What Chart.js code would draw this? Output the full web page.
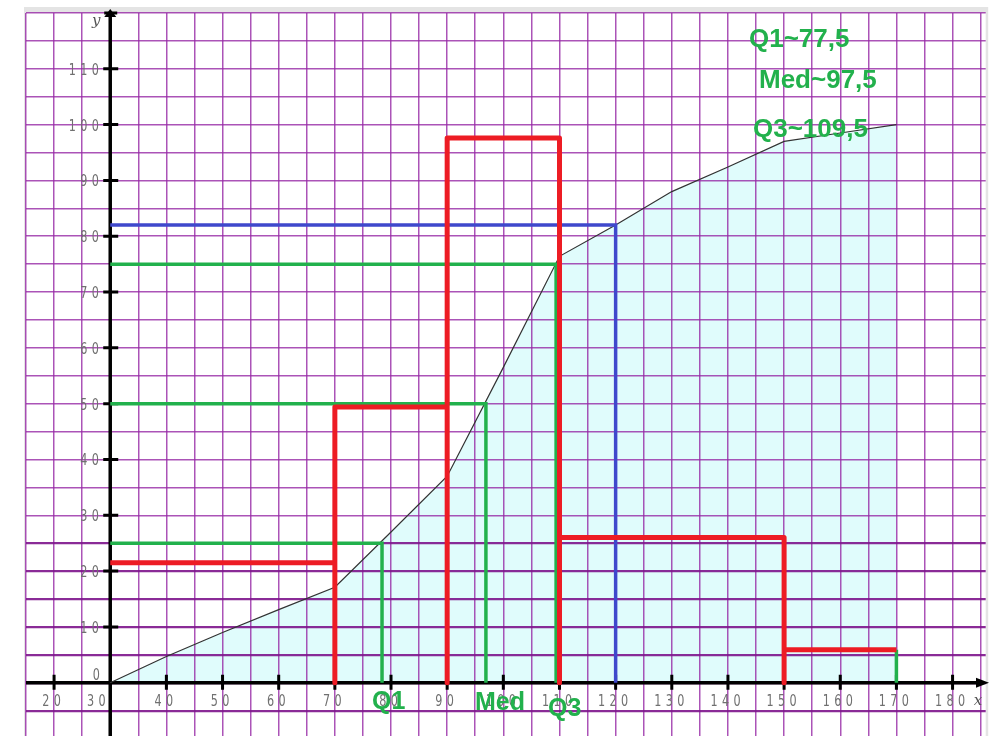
<!DOCTYPE html>
<html>
<head>
<meta charset="utf-8">
<script src="https://cdn.jsdelivr.net/npm/chart.js@4.4.1/dist/chart.umd.min.js"></script>
<style>
  html, body { margin: 0; padding: 0; background: #fff; }
  #wrap { position: relative; width: 1000px; height: 736px; }
</style>
</head>
<body>
<div id="wrap"><canvas id="chart"></canvas></div>
<script>
// cumulative frequency polygon
var cumX = [30, 40, 50, 60, 70, 80, 90, 100, 110, 120, 130, 140, 150, 160, 170];
var cumY = [0, 4.7, 9, 13.1, 17.1, 27, 37, 56.5, 76.4, 82, 88, 92.4, 97, 98.5, 100];

// histogram: class edges and bar heights
var classEdges = [30, 70, 90, 110, 150, 170];
var classHeights = [21.5, 49.4, 97.6, 26, 5.9];

// quartile readings
var quartLevels = [25, 50, 75];
var quartX = [78.4, 96.9, 109.4];
var quartNames = ["Q1", "Med", "Q3"];
var quartTexts = ["Q1~77,5", "Med~97,5", "Q3~109,5"];

// blue reading
var blueLevel = 82;
var blueX = 120;

// axis ticks
var xTicks = [20, 30, 40, 50, 60, 70, 80, 90, 100, 110, 120, 130, 140, 150, 160, 170, 180];
var xTickLabels = ["2 0", "3 0", "4 0", "5 0", "6 0", "7 0", "8 0", "9 0", "1 0 0", "1 1 0", "1 2 0", "1 3 0", "1 4 0", "1 5 0", "1 6 0", "1 7 0", "1 8 0"];
var yTicks = [10, 20, 30, 40, 50, 60, 70, 80, 90, 100, 110];
var yTickLabels = ["1 0", "2 0", "3 0", "4 0", "5 0", "6 0", "7 0", "8 0", "9 0", "1 0 0", "1 1 0"];

var RED = '#ed1c24', GREEN = '#22b14c', BLUE = '#3f48cc';
var AXIS_X = 30, AXIS_Y = 0;

// red step outline of the histogram
var redPts = [];
for (var i = 0; i < classHeights.length; i++) {
    if (i > 0) redPts.push({x: classEdges[i], y: 0});
    redPts.push({x: classEdges[i], y: classHeights[i]});
    redPts.push({x: classEdges[i + 1], y: classHeights[i]});
}

var datasets = [{
    data: redPts, borderColor: RED, borderWidth: 5, borderJoinStyle: 'round'
}];

for (var q = 0; q < quartX.length; q++) {
    datasets.push({
        data: [{x: AXIS_X, y: quartLevels[q]}, {x: quartX[q], y: quartLevels[q]}, {x: quartX[q], y: 0}],
        borderColor: GREEN, borderWidth: 3.5
    });
}
var last = classEdges.length - 1;
datasets.push({
    data: [{x: classEdges[last], y: 0}, {x: classEdges[last], y: classHeights[last - 1]}],
    borderColor: GREEN, borderWidth: 3.5
});
datasets.push({
    data: [{x: AXIS_X, y: blueLevel}, {x: blueX, y: blueLevel}, {x: blueX, y: 0}],
    borderColor: BLUE, borderWidth: 3.5
});
datasets.push({
    data: cumX.map(function (x, k) { return {x: x, y: cumY[k]}; }),
    borderColor: '#333', borderWidth: 1.2,
    fill: 'origin', backgroundColor: 'rgb(224,252,252)'
});

function gridStyle(ctx) {
    var v = ctx.tick ? ctx.tick.value : 0;
    return v;
}

function spaced(ctx, str, cx, cy, rightAlign) {
    var d = str.split(' ');
    var pitch = 11.5;
    var n = d.length;
    if (rightAlign) cx = cx - (n - 1) / 2 * pitch;
    ctx.save();
    ctx.font = '16px "DejaVu Sans"';
    ctx.fillStyle = '#707070';
    ctx.textAlign = 'center';
    ctx.textBaseline = 'alphabetic';
    for (var k = 0; k < n; k++) {
        ctx.save();
        ctx.translate(cx + (k - (n - 1) / 2) * pitch, cy + 6);
        ctx.scale(0.7, 1);
        ctx.fillText(d[k], 0, 0);
        ctx.restore();
    }
    ctx.restore();
}

var drawing = {
    id: 'drawing',
    beforeDraw: function (chart) {
        var ctx = chart.ctx;
        ctx.save();
        ctx.fillStyle = '#e4e4e4';
        ctx.fillRect(24, 7, 964, 6);
        ctx.fillRect(24, 7, 2, 729);
        ctx.fillRect(985.7, 7, 2.5, 729);
        ctx.restore();
    },
    beforeDatasetsDraw: function (chart) {
        var ctx = chart.ctx, xs = chart.scales.x, ys = chart.scales.y, a = chart.chartArea;
        var x0 = xs.getPixelForValue(AXIS_X), y0 = ys.getPixelForValue(AXIS_Y);
        ctx.save();
        ctx.strokeStyle = '#000';
        ctx.fillStyle = '#000';
        ctx.lineWidth = 3.5;
        ctx.beginPath();
        ctx.moveTo(x0, a.top);
        ctx.lineTo(x0, a.bottom);
        ctx.moveTo(a.left, y0);
        ctx.lineTo(979, y0);
        ctx.stroke();
        // arrows
        ctx.beginPath();
        ctx.moveTo(976, y0 - 5); ctx.lineTo(989, y0); ctx.lineTo(976, y0 + 5); ctx.closePath();
        ctx.fill();
        ctx.beginPath();
        ctx.moveTo(x0 - 6, a.top + 4); ctx.lineTo(x0, a.top - 4); ctx.lineTo(x0 + 6, a.top + 4); ctx.closePath();
        ctx.fill();
        ctx.lineWidth = 3;
        ctx.beginPath();
        ctx.moveTo(x0 - 6, a.top); ctx.lineTo(x0 + 7, a.top);
        xTicks.forEach(function (v) {
            if (v === AXIS_X) return;
            var p = xs.getPixelForValue(v);
            ctx.moveTo(p, y0 - 8); ctx.lineTo(p, y0 + 7);
        });
        yTicks.forEach(function (v) {
            var p = ys.getPixelForValue(v);
            ctx.moveTo(x0 - 7, p); ctx.lineTo(x0 + 8, p);
        });
        ctx.stroke();
        ctx.restore();

        xTicks.forEach(function (v, k) {
            var p = xs.getPixelForValue(v);
            var cx = v === AXIS_X ? p - 14 : p - 2.5;
            spaced(ctx, xTickLabels[k], cx, y0 + 17, false);
        });
        yTicks.forEach(function (v, k) {
            spaced(ctx, yTickLabels[k], x0 - 15, ys.getPixelForValue(v), true);
        });
        spaced(ctx, '0', x0 - 14, y0 - 9, false);

        ctx.save();
        ctx.fillStyle = '#555';
        ctx.font = 'italic 15px "DejaVu Serif"';
        ctx.textAlign = 'center';
        ctx.fillText('y', x0 - 14, a.top + 12);
        ctx.fillText('x', 978, y0 + 22);
        ctx.restore();
    },
    afterDatasetsDraw: function (chart) {
        var ctx = chart.ctx, xs = chart.scales.x;
        ctx.save();
        ctx.fillStyle = GREEN;
        ctx.textAlign = 'left';
        ctx.textBaseline = 'alphabetic';
        ctx.font = 'bold 26px "Liberation Sans"';
        var topPos = [[749, 47], [759, 88], [753, 137]];
        quartTexts.forEach(function (t, k) {
            ctx.fillText(t, topPos[k][0], topPos[k][1]);
        });
        ctx.font = 'bold 25px "Liberation Sans"';
        var dx = [-10, -11, -8], by = [709, 710, 716];
        quartNames.forEach(function (t, k) {
            ctx.fillText(t, xs.getPixelForValue(quartX[k]) + dx[k], by[k]);
        });
        ctx.restore();
    }
};

function lineColor(c) {
    var v = c.tick ? c.tick.value : 0;
    return 'rgba(145,35,160,0.8)';
}

new Chart(document.getElementById('chart'), {
    type: 'scatter',
    data: {datasets: datasets},
    options: {
        responsive: true,
        maintainAspectRatio: false,
        animation: false,
        layout: {padding: {left: 26, right: 14.3, top: 13, bottom: 0}},
        datasets: {scatter: {showLine: true, pointRadius: 0, fill: false}},
        plugins: {
            legend: {display: false},
            tooltip: {enabled: false},
            filler: {drawTime: 'beforeDraw'}
        },
        scales: {
            x: {
                type: 'linear', min: 15, max: 185.9,
                border: {display: false},
                ticks: {display: false, stepSize: 5, includeBounds: false, maxTicksLimit: 100},
                grid: {drawTicks: false, color: 'rgba(150,40,165,0.8)', lineWidth: 1.5}
            },
            y: {
                type: 'linear', min: -9.55, max: 120,
                border: {display: false},
                ticks: {display: false, stepSize: 5, includeBounds: false, maxTicksLimit: 100},
                grid: {
                    drawTicks: false,
                    color: function (c) {
                        var v = c.tick ? c.tick.value : 0;
                        return v <= 25 ? 'rgba(125,20,140,0.9)' : 'rgba(150,40,165,0.8)';
                    },
                    lineWidth: function (c) {
                        var v = c.tick ? c.tick.value : 0;
                        return v <= 25 ? 2.2 : 1.5;
                    }
                }
            }
        }
    },
    plugins: [drawing]
});
</script>
</body>
</html>
